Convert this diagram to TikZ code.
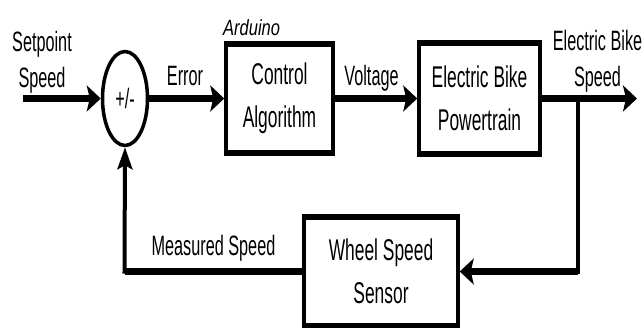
\documentclass[tikz,border=0pt]{standalone}
\usepackage{fontspec}
\setmainfont[FakeStretch=0.58]{Liberation Sans}
\newfontfamily\ardfont[FakeStretch=0.75]{Liberation Sans}
\usetikzlibrary{arrows.meta,shapes.geometric}

\begin{document}
\begin{tikzpicture}[
    x=1pt, y=-1pt,
    hTip/.tip={Stealth[length=14pt, width=26pt, inset=3pt]},
    vTip/.tip={Stealth[length=22pt, width=15pt, inset=4pt]},
    ctrlblock/.style={
        draw, line width=3.5pt,
        inner sep=0pt, align=center,
        font=\fontsize{30}{43}\selectfont
    },
    sumcirc/.style={
        draw, ellipse, line width=3.5pt,
        minimum width=45pt, minimum height=94pt,
        inner sep=0pt,
        font=\fontsize{28}{36}\selectfont
    },
    hwire/.style={line width=6.5pt},
    vwire/.style={line width=4pt, line cap=rect},
    siglbl/.style={font=\fontsize{28}{36}\selectfont, align=center}
]
\useasboundingbox (0,0) rectangle (644,327);

% =========================================================
% Vorwaertszweig
% =========================================================
\node[sumcirc] (sum) at (125,98.5) {+/-};

\node[ctrlblock, minimum width=107pt, minimum height=107pt]
    (ctrl) at (279.5,98.5) {Control\\Algorithm};
\node[font=\ardfont\itshape\fontsize{22}{26}\selectfont,
      anchor=base west, inner sep=0pt] (ardlbl) at (223,35) {Arduino};

\node[ctrlblock, minimum width=121pt, minimum height=108pt]
    (plant) at (479.5,98.5) {Electric Bike\\Powertrain};

\coordinate (in) at (23,98.5);
\coordinate (out) at (637,98.5);

\node[siglbl] (setlbl) at (42,62) {Setpoint\\Speed};
\node[siglbl, anchor=base] (errlbl) at (185,85) {Error};
\node[siglbl, anchor=base] (voltlbl) at (371.5,85) {Voltage};
\node[siglbl] (outlbl) at (597.5,61) {Electric Bike\\Speed};

\draw[hwire, -{hTip}] (in) -- (sum.west);
\draw[hwire, -{hTip}] (sum.east) -- (ctrl.west);
\draw[hwire, -{hTip}] (ctrl.east) -- (plant.west);
\draw[hwire, -{hTip}] (plant.east) -- (out);

% =========================================================
% Rueckfuehrung
% =========================================================
\node[ctrlblock, minimum width=154pt, minimum height=106pt]
    (sensor) at (381,271.5) {Wheel Speed\\Sensor};
\node[siglbl, anchor=base] (measlbl) at (213.5,255) {Measured Speed};

\coordinate (tap) at (578,98.5);
\coordinate (cornerR) at (578,271.5);
\coordinate (cornerL) at (124.5,271.5);

\draw[vwire] (tap) -- (cornerR);
\draw[hwire, -{hTip}] (cornerR) -- (sensor.east);
\draw[hwire] (sensor.west) -- (cornerL);
\draw[vwire, -{vTip}] (cornerL) -- (sum.south);

% dickere Ober- und Unterkanten der Bloecke
\foreach \blk in {ctrl,plant,sensor} {
    \draw[line width=5pt, yshift=-0.6pt] (\blk.north west) -- (\blk.north east);
    \draw[line width=5pt, yshift=0.6pt] (\blk.south west) -- (\blk.south east);
}

\end{tikzpicture}
\end{document}
